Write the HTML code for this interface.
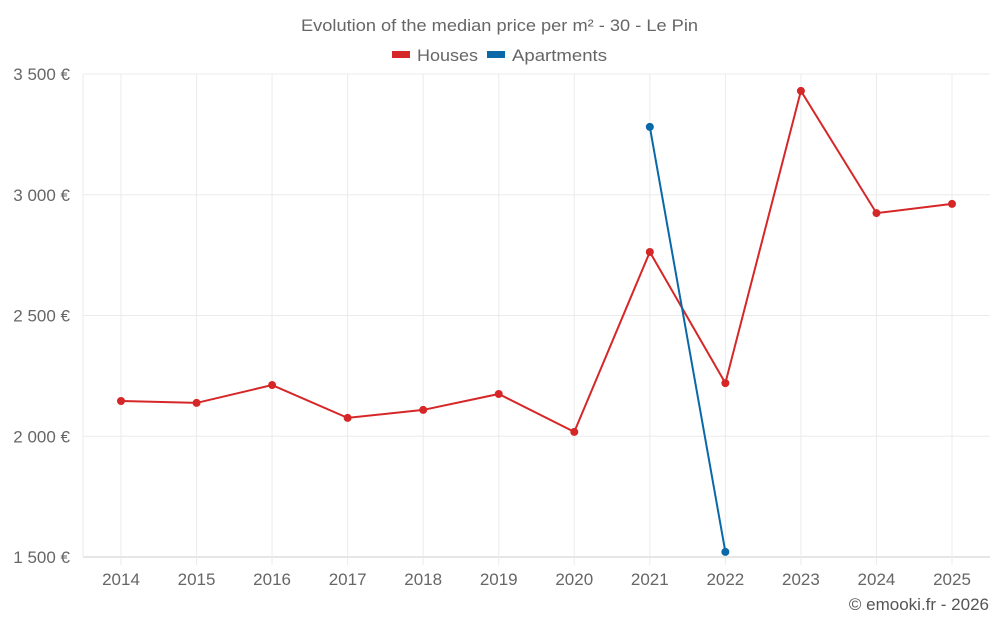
<!DOCTYPE html>
<html><head><meta charset="utf-8"><style>
body{margin:0;background:#fff;font-family:"Liberation Sans",sans-serif;}
svg text{font-family:"Liberation Sans",sans-serif;}
</style></head><body>
<svg id="c" width="1000" height="625">
<text x="301" y="31" font-size="17" fill="#666" textLength="397" lengthAdjust="spacingAndGlyphs">Evolution of the median price per m² - 30 - Le Pin</text>
<g>
<rect x="392" y="51" width="18" height="7" fill="#d62728"/>
<text x="417" y="61" font-size="17" fill="#666" textLength="61" lengthAdjust="spacingAndGlyphs">Houses</text>
<rect x="487" y="51" width="18" height="7" fill="#0868a8"/>
<text x="512" y="61" font-size="17" fill="#666" textLength="95" lengthAdjust="spacingAndGlyphs">Apartments</text>
</g>
<g id="grid"></g><g id="marks"></g>
<text x="989" y="610" text-anchor="end" font-size="17" fill="#555">© emooki.fr - 2026</text>
</svg>
<script>
const years=[2014,2015,2016,2017,2018,2019,2020,2021,2022,2023,2024,2025];
const houses=[2146,2138,2212,2076,2109,2175,2018,2763,2220,3430,2924,2962];
const apartments=[null,null,null,null,null,null,null,3281,1521,null,null,null];
const yTicks=[1500,2000,2500,3000,3500];
const yLabels=["1 500 €","2 000 €","2 500 €","3 000 €","3 500 €"];
const NS="http://www.w3.org/2000/svg";
const x=i=>121+i*(952-121)/11;
const y=v=>557-(v-1500)*(557-74)/2000;
function mk(t,a,p){const e=document.createElementNS(NS,t);for(const k in a)e.setAttribute(k,a[k]);p.appendChild(e);return e;}
const g=document.getElementById('grid'),m=document.getElementById('marks');
yTicks.forEach((v,i)=>{
 const l=mk('line',{x1:83,x2:990,y1:y(v),y2:y(v),stroke:i==0?'#ccc':'#ebebeb'},g);
 
 
 const t=mk('text',{x:70,y:y(v)+6,'text-anchor':'end','font-size':17,fill:'#666'},g);
 t.textContent=yLabels[i];
 
 
});
years.forEach((yr,i)=>{
 const l=mk('line',{x1:x(i),x2:x(i),y1:74,y2:565,stroke:'#ebebeb'},g);
 
 
 const t=mk('text',{x:x(i),y:585,'text-anchor':'middle','font-size':17,fill:'#666'},g);
 t.textContent=yr;
 
 
});
const l0=mk('line',{x1:83,x2:83,y1:74,y2:557,stroke:'#ebebeb'},g);


function series(vals,col,name){
 const pts=[];vals.forEach((v,i)=>{if(v!=null)pts.push([x(i),y(v)]);});
 const p=mk('polyline',{points:pts.map(q=>q.join(',')).join(' '),fill:'none',stroke:col,'stroke-width':2},m);
 
 
 pts.forEach(q=>{const c=mk('circle',{cx:q[0],cy:q[1],r:4,fill:col},m);
 
 });
}
series(houses,'#d62728','houses');
series(apartments,'#0868a8','apartments');
</script>
</body></html>
